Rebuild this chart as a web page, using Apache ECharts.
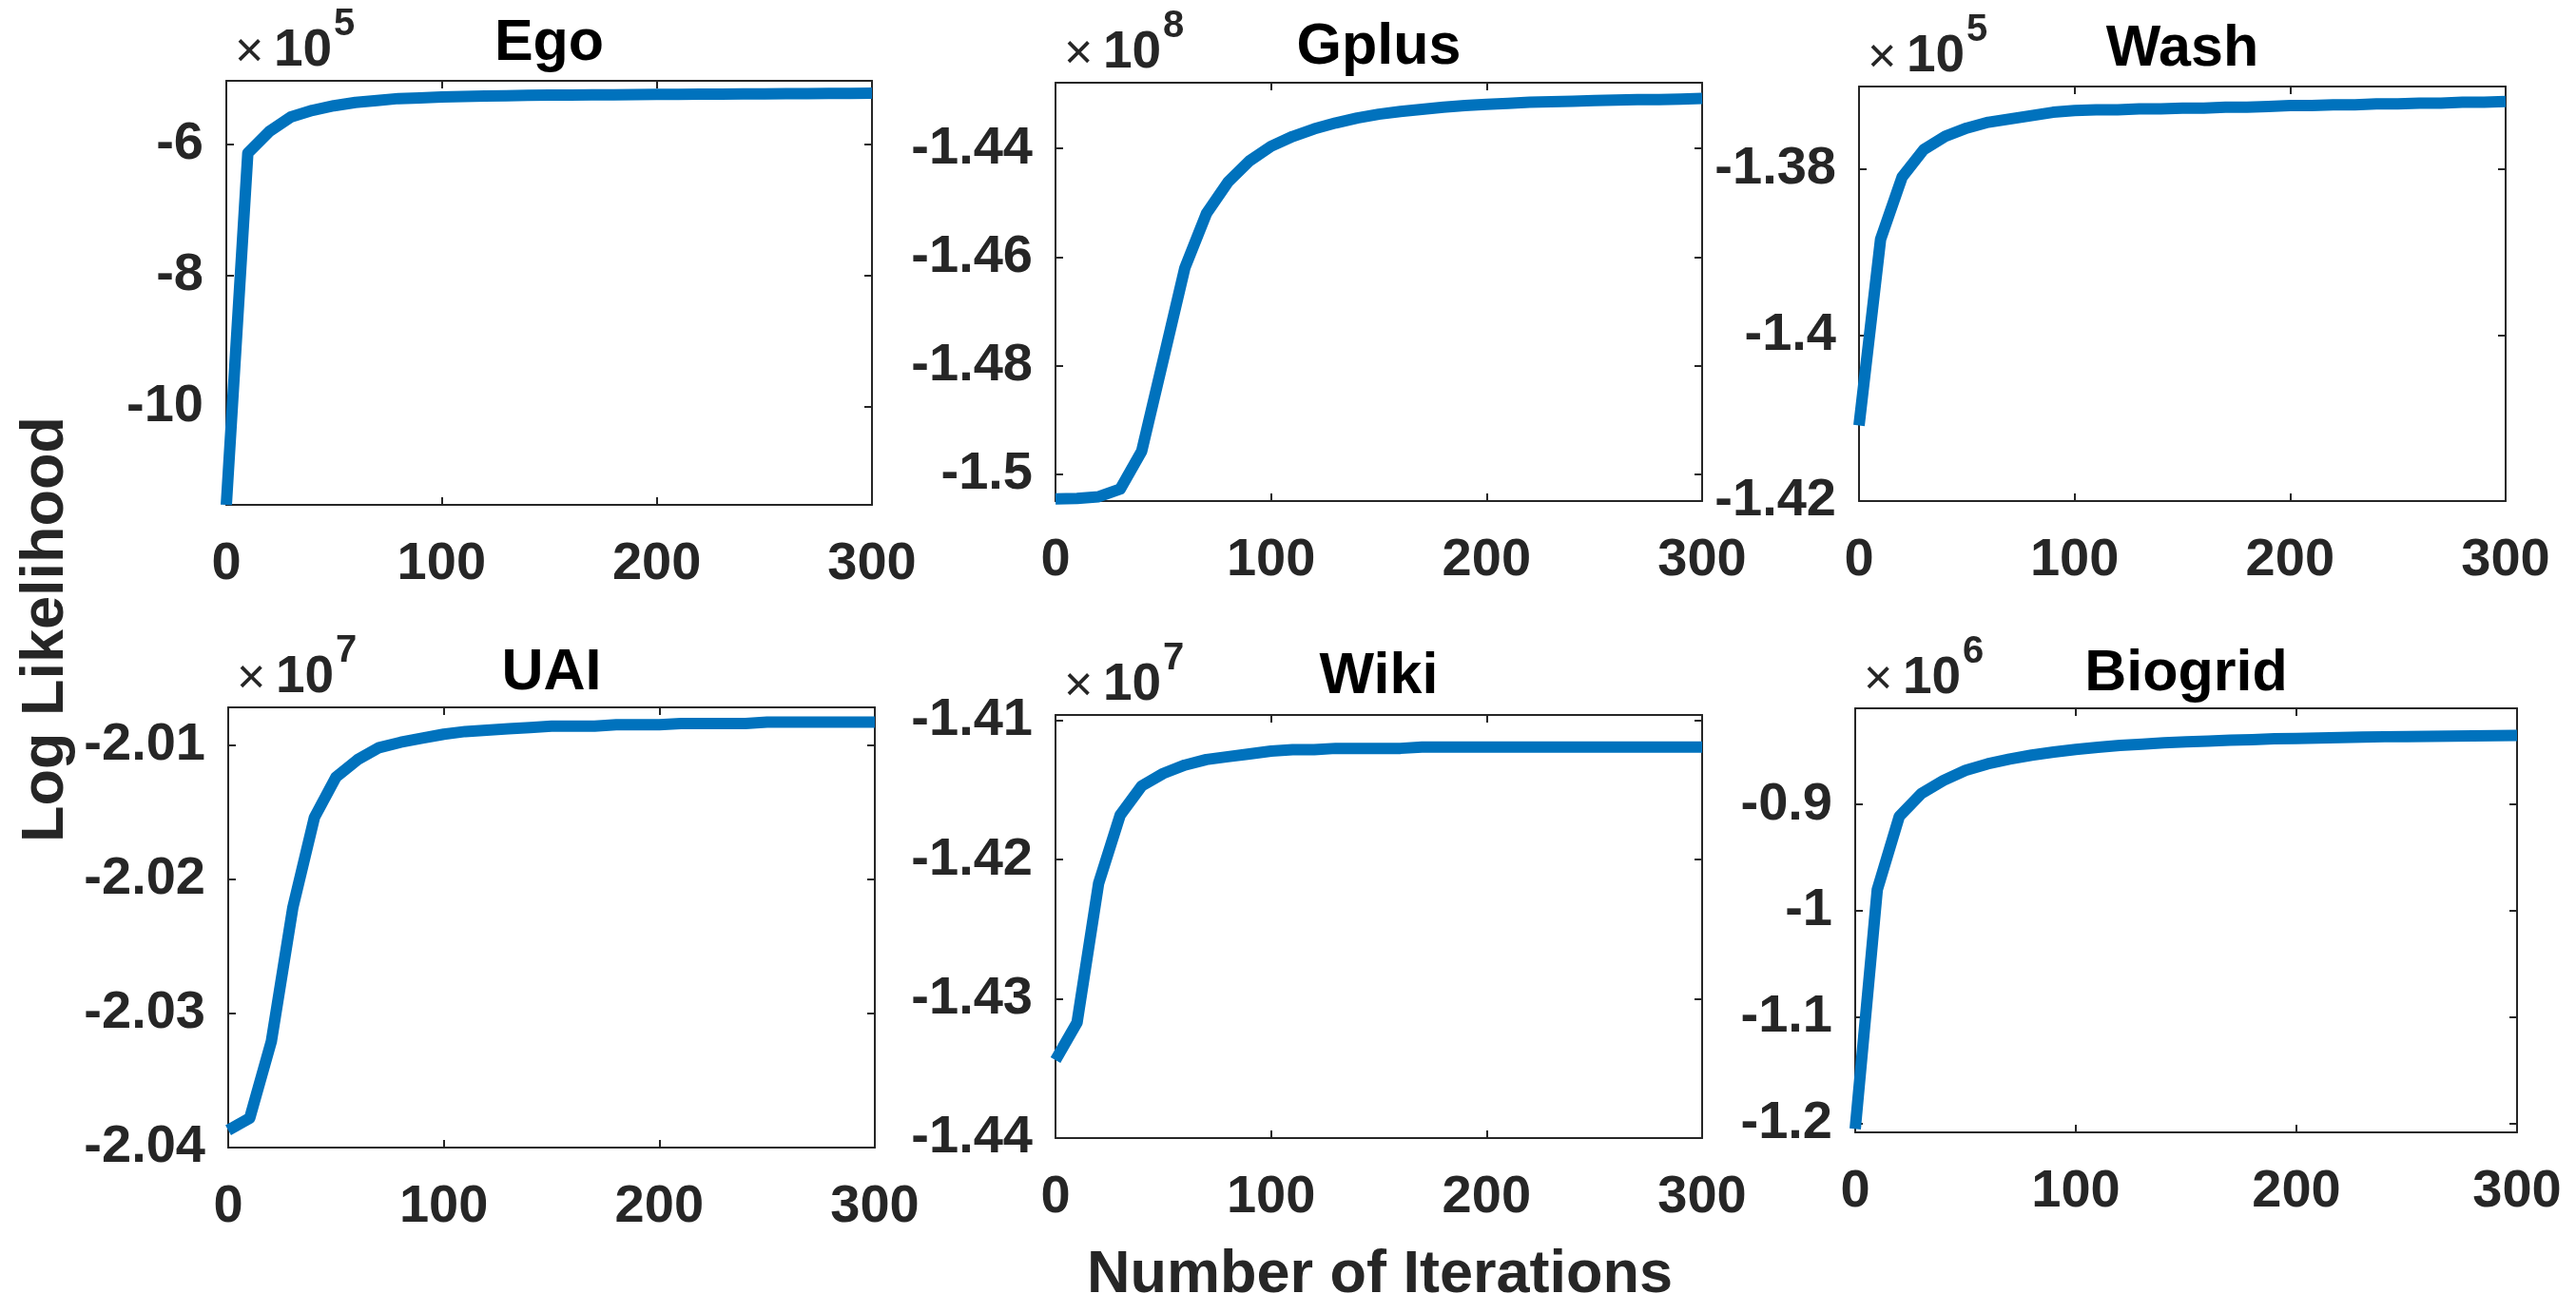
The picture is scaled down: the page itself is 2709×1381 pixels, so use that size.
<!DOCTYPE html>
<html>
<head>
<meta charset="utf-8">
<script src="https://cdn.jsdelivr.net/npm/echarts@6/dist/echarts.min.js"></script>
<style>
html, body { margin: 0; padding: 0; background: #fff; }
#chart { width: 2709px; height: 1381px; }
</style>
</head>
<body>
<div id="chart"></div>
<script>
// iterations (x values, every 10 iterations)
var iters = [0, 10, 20, 30, 40, 50, 60, 70, 80, 90, 100, 110, 120, 130, 140, 150,
             160, 170, 180, 190, 200, 210, 220, 230, 240, 250, 260, 270, 280, 290, 300];
var xTicks = [0, 100, 200, 300];

var titles = ['Ego', 'Gplus', 'Wash', 'UAI', 'Wiki', 'Biogrid'];
var exponents = ['5', '8', '5', '7', '7', '6'];

// log likelihood, in units of 10^exponent
var egoVals = [-11.5, -6.14, -5.81, -5.59, -5.49, -5.42, -5.37, -5.34, -5.31, -5.30, -5.285,
               -5.28, -5.272, -5.267, -5.262, -5.259, -5.256, -5.254, -5.252, -5.25, -5.248,
               -5.246, -5.244, -5.242, -5.24, -5.238, -5.236, -5.235, -5.233, -5.232, -5.23];
var gplusVals = [-1.5045, -1.5044, -1.5041, -1.5027, -1.4957, -1.4789, -1.4620, -1.4520, -1.4462,
                 -1.4423, -1.4396, -1.4378, -1.4364, -1.4353, -1.4344, -1.4337, -1.4332, -1.4328,
                 -1.4324, -1.4321, -1.4319, -1.4317, -1.4315, -1.4314, -1.4313, -1.4312, -1.4311,
                 -1.4310, -1.4310, -1.4309, -1.4308];
var washVals = [-1.4109, -1.3885, -1.3810, -1.3777, -1.3761, -1.3751, -1.3744, -1.3740, -1.3736,
                -1.3732, -1.3730, -1.3729, -1.3729, -1.3728, -1.3728, -1.3727, -1.3727, -1.3726,
                -1.3726, -1.3725, -1.3724, -1.3724, -1.3723, -1.3723, -1.3722, -1.3722, -1.3721,
                -1.3721, -1.3720, -1.3720, -1.3719];
var uaiVals = [-2.0387, -2.0378, -2.0321, -2.0221, -2.0154, -2.0124, -2.0111, -2.0102, -2.0098,
               -2.0095, -2.0092, -2.0090, -2.0089, -2.0088, -2.0087, -2.0086, -2.0086, -2.0086,
               -2.0085, -2.0085, -2.0085, -2.0084, -2.0084, -2.0084, -2.0084, -2.0083, -2.0083,
               -2.0083, -2.0083, -2.0083, -2.0083];
var wikiVals = [-1.4344, -1.4317, -1.4217, -1.4168, -1.4147, -1.4138, -1.4132, -1.4128, -1.4126,
                -1.4124, -1.4122, -1.4121, -1.4121, -1.4120, -1.4120, -1.4120, -1.4120, -1.4119,
                -1.4119, -1.4119, -1.4119, -1.4119, -1.4119, -1.4119, -1.4119, -1.4119, -1.4119,
                -1.4119, -1.4119, -1.4119, -1.4119];
var biogridVals = [-1.205, -0.9801, -0.9111, -0.8897, -0.8774, -0.8679, -0.8618, -0.8573, -0.8536,
                   -0.8507, -0.8482, -0.8462, -0.8445, -0.8433, -0.8420, -0.8412, -0.8404, -0.8396,
                   -0.8390, -0.8383, -0.8379, -0.8375, -0.8371, -0.8367, -0.8363, -0.8361, -0.8359,
                   -0.8357, -0.8355, -0.8353, -0.8351];

var egoTicks = [-10, -8, -6];
var gplusTicks = [-1.5, -1.48, -1.46, -1.44];
var washTicks = [-1.42, -1.4, -1.38];
var uaiTicks = [-2.04, -2.03, -2.02, -2.01];
var wikiTicks = [-1.44, -1.43, -1.42, -1.41];
var biogridTicks = [-1.2, -1.1, -1, -0.9];

var yMins = [-11.5, -1.5049, -1.42, -2.04, -1.44, -1.2082];
var yMaxs = [-5.04, -1.4279, -1.3701, -2.0072, -1.4096, -0.8096];

var allVals = [egoVals, gplusVals, washVals, uaiVals, wikiVals, biogridVals];
var allTicks = [egoTicks, gplusTicks, washTicks, uaiTicks, wikiTicks, biogridTicks];

// plot boxes in pixels: [left, top, right, bottom]
var boxes = [
    [238, 85, 917, 531],
    [1110, 87, 1790, 527],
    [1955, 91, 2635, 527],
    [240, 744, 920, 1207],
    [1110, 752, 1790, 1197],
    [1951, 745, 2647, 1191]
];
// title baselines
var titleBase = [65, 69, 71, 727, 731, 728];

var FONT = 'Liberation Sans, Arial, Helvetica, sans-serif';
var AX = '#262626';
var BLUE = '#0072BD';

var myChart = echarts.init(document.getElementById('chart'));

var grids = [], xAxes = [], yAxes = [], series = [], graphics = [];

// text placed by its alphabetic baseline (zrender only knows top/middle/bottom)
function baseText(x, baseline, str, weight, size, color, align) {
    return {
        type: 'text', x: x, y: baseline - 0.31 * size,
        style: { text: str, fill: color, font: weight + ' ' + size + 'px ' + FONT,
                 align: align, verticalAlign: 'middle' }
    };
}

for (var i = 0; i < 6; i++) {
    var b = boxes[i];
    grids.push({
        left: b[0], top: b[1], width: b[2] - b[0], height: b[3] - b[1],
        containLabel: false, show: false
    });

    var tickStyle = { show: true, inside: true, length: 8, lineStyle: { color: AX, width: 2 } };
    var lineStyle = { show: true, onZero: false, lineStyle: { color: AX, width: 2 } };

    // bottom + top x axes
    xAxes.push({
        type: 'value', gridIndex: i, position: 'bottom', min: 0, max: 300, interval: 100,
        axisLine: lineStyle, axisTick: tickStyle, splitLine: { show: false },
        axisLabel: { fontSize: 56, fontWeight: 'bold', color: AX, fontFamily: FONT, margin: 35 }
    });
    xAxes.push({
        type: 'value', gridIndex: i, position: 'top', min: 0, max: 300, interval: 100,
        axisLine: lineStyle, axisTick: tickStyle, splitLine: { show: false },
        axisLabel: { show: false }
    });

    var ticks = allTicks[i];
    // left + right y axes
    yAxes.push({
        type: 'value', gridIndex: i, position: 'left', min: yMins[i], max: yMaxs[i],
        axisLine: lineStyle,
        axisTick: { show: true, inside: true, length: 8, customValues: ticks, lineStyle: { color: AX, width: 2 } },
        splitLine: { show: false },
        axisLabel: {
            customValues: ticks, fontSize: 56, fontWeight: 'bold', color: AX, fontFamily: FONT, margin: 24,
            formatter: function (v) { return String(+v.toFixed(4)); }
        }
    });
    yAxes.push({
        type: 'value', gridIndex: i, position: 'right', min: yMins[i], max: yMaxs[i],
        axisLine: lineStyle,
        axisTick: { show: true, inside: true, length: 8, customValues: ticks, lineStyle: { color: AX, width: 2 } },
        splitLine: { show: false },
        axisLabel: { show: false }
    });

    var vals = allVals[i];
    series.push({
        type: 'line', xAxisIndex: 2 * i, yAxisIndex: 2 * i,
        data: iters.map(function (x, k) { return [x, vals[k]]; }),
        showSymbol: false, symbol: 'none', clip: true, animation: false,
        lineStyle: { color: BLUE, width: 12, join: 'round' }
    });

    // title
    graphics.push(baseText((b[0] + b[2]) / 2, titleBase[i], titles[i], 'bold', 61, '#000', 'center'));
    // x10^n multiplier above the y axis
    graphics.push(baseText(b[0] + 9, b[1] - 13, '\u00d7', 'normal', 52, AX, 'left'));
    graphics.push(baseText(b[0] + 50, b[1] - 14, '10', 'bold', 55, AX, 'left'));
    graphics.push(baseText(b[0] + 113, b[1] - 47, exponents[i], 'bold', 40, AX, 'left'));
}

graphics.push({
    type: 'text', x: 49, y: 662, rotation: Math.PI / 2,
    style: { text: 'Log Likelihood', fill: AX, font: 'bold 63px ' + FONT, align: 'center', verticalAlign: 'middle' }
});
graphics.push(baseText(1451, 1361, 'Number of Iterations', 'bold', 63, AX, 'center'));

var option = {
    backgroundColor: '#fff',
    animation: false,
    grid: grids,
    xAxis: xAxes,
    yAxis: yAxes,
    series: series,
    graphic: graphics
};
myChart.setOption(option);
</script>
</body>
</html>
